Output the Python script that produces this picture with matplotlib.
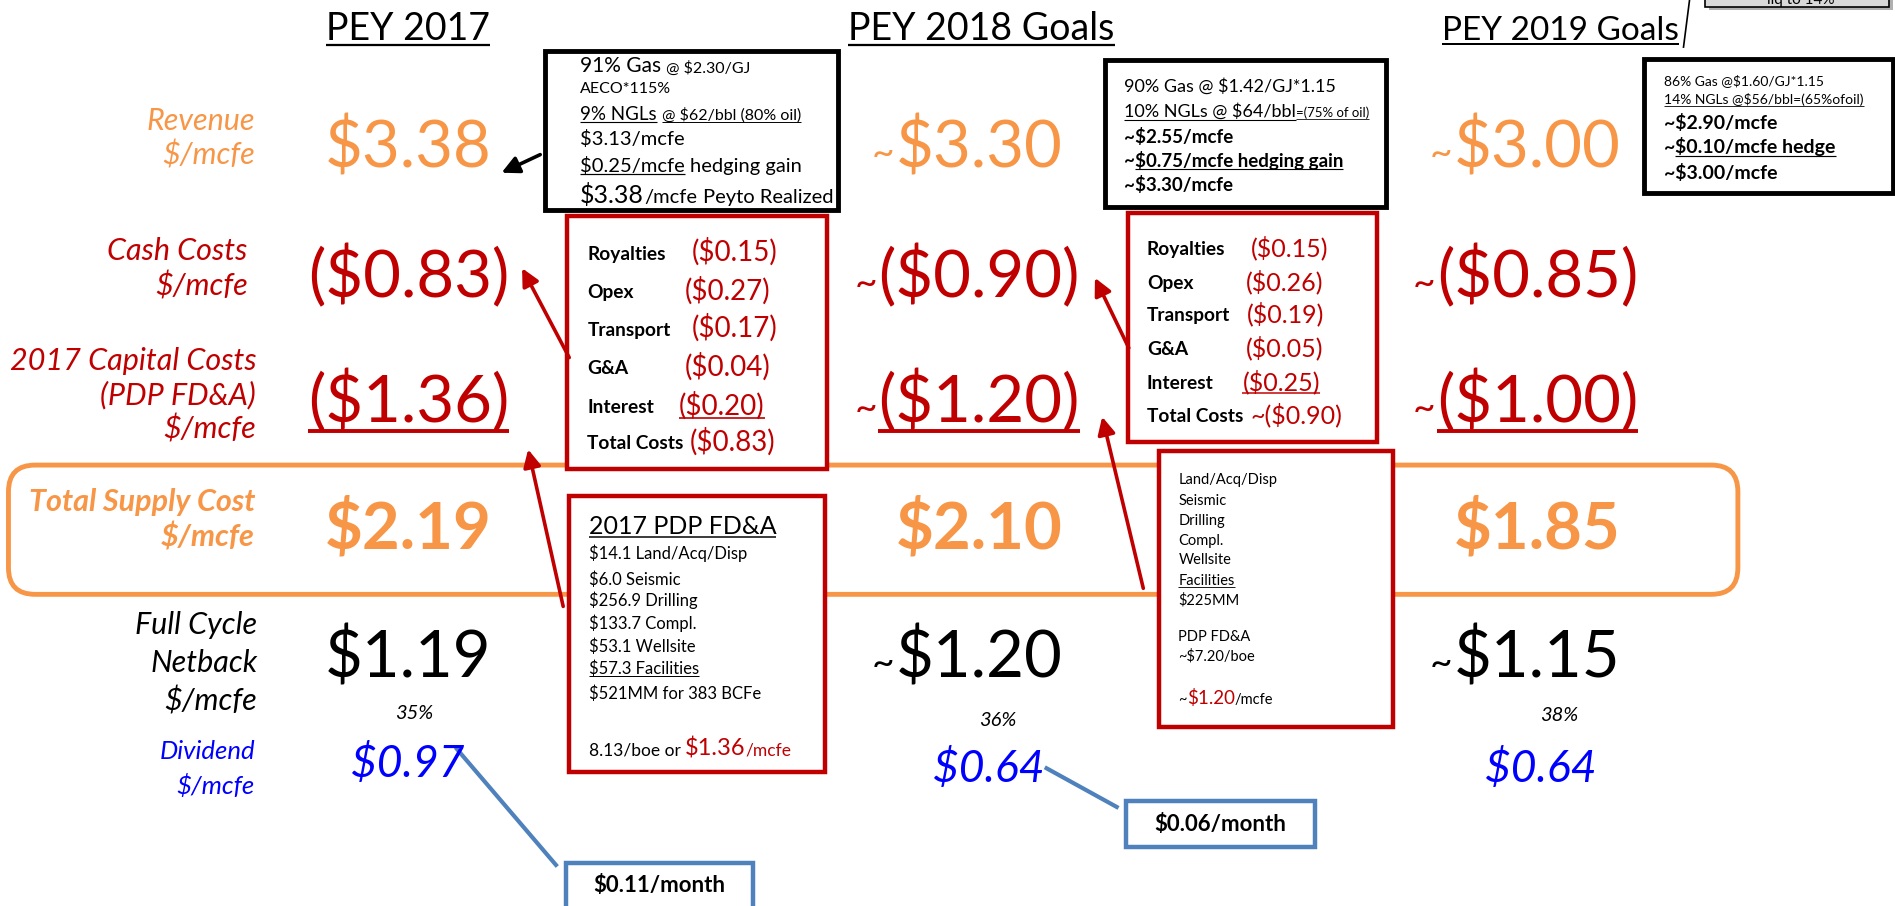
import matplotlib
matplotlib.use("Agg")
import matplotlib.pyplot as plt
from matplotlib.patches import Rectangle, FancyBboxPatch

plt.rcParams['font.family'] = ['Lato', 'DejaVu Sans']

ORANGE = '#F79646'
RED = '#C00000'
BLUE = '#0000FF'
BOXBLUE = '#4F81BD'

# ---- data ----
years = ["PEY 2017", "PEY 2018 Goals", "PEY 2019 Goals"]
approx = [False, True, True]
revenue = [3.38, 3.30, 3.00]
cash_costs = [0.83, 0.90, 0.85]
capital_costs = [1.36, 1.20, 1.00]
supply_cost = [2.19, 2.10, 1.85]
netback = [1.19, 1.20, 1.15]
netback_margin = [35, 36, 38]
dividend = [0.97, 0.64, 0.64]
dividend_month = [0.11, 0.06, None]

cost_items = ["Royalties", "Opex", "Transport", "G&A", "Interest", "Total Costs"]
costs_2017 = [0.15, 0.27, 0.17, 0.04, 0.20, 0.83]
costs_2018 = [0.15, 0.26, 0.19, 0.05, 0.25, 0.90]
fdna_items = ["Land/Acq/Disp", "Seismic", "Drilling", "Compl.", "Wellsite", "Facilities"]
fdna_2017 = [14.1, 6.0, 256.9, 133.7, 53.1, 57.3]

fig = plt.figure(figsize=(18.95, 9.06), dpi=100)
ax = fig.add_axes([0, 0, 1, 1])
ax.set_xlim(0, 1568)
ax.set_ylim(750, 0)
ax.axis('off')
R = fig.canvas.get_renderer()
inv = ax.transData.inverted()


def xspan(t):
    bb = t.get_window_extent(renderer=R)
    (x0, _), (x1, _) = inv.transform([[bb.x0, bb.y0], [bb.x1, bb.y1]])
    return x0, x1


def uline(x0, x1, y, size, color):
    em = size / 0.87
    ax.plot([x0, x1], [y + 0.13 * em] * 2, color=color, lw=0.06 * size,
            solid_capstyle='butt', zorder=5)


def run(x, y, parts, align='left'):
    items = []
    total = 0
    for p in parts:
        t = ax.text(0, y + p.get('dy', 0), p['s'], fontsize=p['size'],
                    color=p.get('color', 'black'),
                    fontweight=p.get('weight', 'normal'),
                    fontstyle=p.get('style', 'normal'),
                    va='baseline', ha='left', zorder=6)
        x0, x1 = xspan(t)
        items.append((t, x1 - x0, p))
        total += p.get('gap', 0) + x1 - x0
    if align == 'center':
        x -= total / 2
    elif align == 'right':
        x -= total
    start = x
    for t, w, p in items:
        x += p.get('gap', 0)
        t.set_x(x)
        if p.get('ul'):
            uline(x, x + w, y, p['size'], t.get_color())
        x += w
    return start, x


def box(x0, y0, x1, y1, color, lw):
    ax.add_patch(Rectangle((x0, y0), x1 - x0, y1 - y0, facecolor='white',
                           edgecolor=color, lw=lw, zorder=3))


def arrow(tail, head, color):
    ax.annotate('', xy=head, xytext=tail, zorder=7,
                arrowprops=dict(arrowstyle='-|>', color=color, lw=2.6,
                                mutation_scale=26, shrinkA=0, shrinkB=0))


# ---- titles ----
title_x = [338, 812, 1291]
title_size = [27, 27, 24]
for i, yr in enumerate(years):
    run(title_x[i], 33, [dict(s=yr, size=title_size[i], ul=True)], align='center')

# ---- row labels ----
row_labels = [
    ("Revenue", 108, 211, ORANGE, 'normal', 22),
    ("$/mcfe", 136, 211, ORANGE, 'normal', 22),
    ("Cash Costs", 215, 205, RED, 'normal', 22),
    ("$/mcfe", 245, 205, RED, 'normal', 22),
    ("2017 Capital Costs", 306, 212, RED, 'normal', 22),
    ("(PDP FD&A)", 335, 212, RED, 'normal', 22),
    ("$/mcfe", 363, 212, RED, 'normal', 22),
    ("Total Supply Cost", 423, 211, ORANGE, 'bold', 22),
    ("$/mcfe", 452, 211, ORANGE, 'bold', 22),
    ("Full Cycle", 525, 213, 'black', 'normal', 22),
    ("Netback", 556, 213, 'black', 'normal', 22),
    ("$/mcfe", 588, 213, 'black', 'normal', 22),
    ("Dividend", 628, 211, BLUE, 'normal', 18.5),
    ("$/mcfe", 657, 211, BLUE, 'normal', 18.5),
]
for s, y, xr, c, w, fs in row_labels:
    ax.text(xr, y, s, ha='right', va='baseline', fontsize=fs, color=c,
            fontstyle='italic', fontweight=w)

# ---- total supply cost band ----
ax.add_patch(FancyBboxPatch((7, 385), 1431, 107,
                            boxstyle="round,pad=0,rounding_size=22",
                            facecolor='none', edgecolor=ORANGE, lw=3.5, zorder=1))

# ---- big numbers ----
cols = [338, 810, 1272]
BIG = 47


def big(ci, y, val, color, paren=False, tilde=False, ul=False, weight='normal'):
    s = f"(${val:.2f})" if paren else f"${val:.2f}"
    x0, _ = run(cols[ci], y, [dict(s=s, size=BIG, color=color, weight=weight, ul=ul)],
                align='center')
    if tilde:
        ax.text(x0 - 1, y - 2, "~", ha='right', va='baseline', fontsize=28,
                color=color, zorder=6)


for i in range(3):
    big(i, 139, revenue[i], ORANGE, tilde=approx[i])
    big(i, 246, cash_costs[i], RED, paren=True, tilde=approx[i])
    big(i, 350, capital_costs[i], RED, paren=True, tilde=approx[i], ul=True)
    big(i, 454, supply_cost[i], ORANGE, weight='bold')
    big(i, 561, netback[i], 'black', tilde=approx[i])

pct_pos = [(343, 595), (826, 601), (1290, 597)]
div_pos = [(337, 643), (818, 647), (1275, 647)]
for i in range(3):
    ax.text(pct_pos[i][0], pct_pos[i][1], f"{netback_margin[i]}%", ha='center',
            va='baseline', fontsize=14.5, fontstyle='italic')
    ax.text(div_pos[i][0], div_pos[i][1], f"${dividend[i]:.2f}", ha='center',
            va='baseline', fontsize=32, fontstyle='italic', color=BLUE)

# ---- 2017 revenue box ----
box(451, 42, 693, 174, 'black', 3.5)
bx = 480
run(bx, 60, [dict(s="91% Gas", size=15), dict(s="@ $2.30/GJ", size=11.5, gap=4)])
run(bx, 77, [dict(s="AECO*115%", size=11.5)])
run(bx, 99, [dict(s="9% NGLs", size=13.5, ul=True),
             dict(s="@ $62/bbl (80% oil)", size=11.5, ul=True, gap=4)])
run(bx, 120, [dict(s="$3.13/mcfe", size=14.5)])
run(bx, 142, [dict(s="$0.25/mcfe", size=14.5, ul=True), dict(s="hedging gain", size=14.5, gap=4)])
run(bx, 168, [dict(s="$3.38", size=18), dict(s="/mcfe", size=14.5),
              dict(s="Peyto Realized", size=14.5, gap=5)])
arrow((447, 128), (415, 143), 'black')

# ---- 2017 cash cost box ----
box(469, 179, 684, 388, RED, 3.2)
cost_y1 = [215, 247, 278, 310, 342, 372]
val_x1 = [572, 567, 572, 567, 562, 571]
for i, item in enumerate(cost_items):
    ax.text(486, cost_y1[i], item, fontsize=13.8, fontweight='bold', va='baseline', zorder=6)
    run(val_x1[i], cost_y1[i] + 1, [dict(s=f"(${costs_2017[i]:.2f})", size=20, color=RED,
                                          ul=(item == "Interest"))])
arrow((471, 296), (432, 222), RED)

# ---- 2017 PDP FD&A box ----
box(471, 411, 683, 639, RED, 3.2)
run(487, 442, [dict(s="2017 PDP FD&A", size=18, ul=True)])
fd_y = [463, 484, 502, 521, 540, 558]
for i, item in enumerate(fdna_items):
    run(487, fd_y[i], [dict(s=f"${fdna_2017[i]:.1f} {item}", size=12, ul=(item == "Facilities"))])
run(487, 579, [dict(s="$521MM for 383 BCFe", size=12)])
run(487, 625, [dict(s="8.13/boe or", size=12.5), dict(s="$1.36", size=17, color=RED, gap=4),
               dict(s="/mcfe", size=12.5, color=RED)])
arrow((466, 502), (437, 372), RED)

# ---- 2018 revenue box ----
box(914, 50, 1147, 171, 'black', 3.5)
bx = 930
run(bx, 76, [dict(s="90% Gas @ $1.42/GJ*1.15", size=13)])
run(bx, 97, [dict(s="10% NGLs @ $64/bbl", size=13, ul=True),
             dict(s="=(75% of oil)", size=9.5, ul=True)])
run(bx, 118, [dict(s="~$2.55/mcfe", size=13.5, weight='bold')])
run(bx, 138, [dict(s="~", size=13.5, weight='bold'),
              dict(s="$0.75/mcfe hedging gain", size=13.5, weight='bold', ul=True)])
run(bx, 158, [dict(s="~$3.30/mcfe", size=13.5, weight='bold')])

# ---- 2018 cash cost box ----
box(933, 176, 1139, 366, RED, 3.2)
cost_y2 = [211, 239, 266, 294, 322, 349]
val_x2 = [1035, 1031, 1032, 1031, 1028, 1035]
for i, item in enumerate(cost_items):
    ax.text(949, cost_y2[i], item, fontsize=13.8, fontweight='bold', va='baseline', zorder=6)
    pre = "~" if item == "Total Costs" else ""
    run(val_x2[i], cost_y2[i] + 1, [dict(s=f"{pre}(${costs_2018[i]:.2f})", size=18, color=RED,
                                          ul=(item == "Interest"))])
arrow((934, 288), (906, 230), RED)

# ---- 2018 capital box ----
box(959, 373, 1153, 602, RED, 3.2)
fd_y2 = [401, 418, 435, 451, 467, 484]
for i, item in enumerate(fdna_items):
    run(975, fd_y2[i], [dict(s=item, size=10.5, ul=(item == "Facilities"))])
run(975, 500, [dict(s="$225MM", size=10.5)])
run(975, 531, [dict(s="PDP FD&A", size=10.5)])
run(975, 547, [dict(s="~$7.20/boe", size=10.5)])
run(975, 583, [dict(s="~", size=10.5), dict(s="$1.20", size=13.5, color=RED),
               dict(s="/mcfe", size=10.5)])
arrow((946, 487), (912, 345), RED)

# ---- 2019 revenue box ----
box(1360, 49, 1566, 160, 'black', 3.5)
bx = 1377
run(bx, 70, [dict(s="86% Gas @$1.60/GJ*1.15", size=10)])
run(bx, 86, [dict(s="14% NGLs @$56/bbl=(65%ofoil)", size=10, ul=True)])
run(bx, 107, [dict(s="~$2.90/mcfe", size=14, weight='bold')])
run(bx, 127, [dict(s="~", size=14, weight='bold'),
              dict(s="$0.10/mcfe hedge", size=14, weight='bold', ul=True)])
run(bx, 148, [dict(s="~$3.00/mcfe", size=14, weight='bold')])

# ---- top-right callout (cut off at the top edge) ----
ax.add_patch(Rectangle((1414, -20), 152, 28, facecolor='#B0B0B0', edgecolor='none', zorder=2))
ax.add_patch(Rectangle((1411, -22), 152, 28, facecolor='#D9D9D9', edgecolor='black', lw=1.2, zorder=3))
ax.text(1490, 3, "liq to 14%", ha='center', va='baseline', fontsize=11, zorder=4)
ax.plot([1398, 1393], [0, 39], color='black', lw=1.2)

# ---- dividend per month callouts ----
month_boxes = [((468, 714, 623, 770), (378, 620), (460, 716)),
               ((932, 663, 1088, 701), (866, 636), (924, 668))]
for i, ((x0, y0, x1, y1), a, b) in enumerate(month_boxes):
    ax.plot([a[0], b[0]], [a[1], b[1]], color=BOXBLUE, lw=3)
    box(x0, y0, x1, y1, BOXBLUE, 3.2)
    ty = 738 if i == 0 else 688
    ax.text((x0 + x1) / 2, ty, f"${dividend_month[i]:.2f}/month", ha='center',
            va='baseline', fontsize=16, fontweight='bold', zorder=6)

fig.savefig("out.png", dpi=100)
